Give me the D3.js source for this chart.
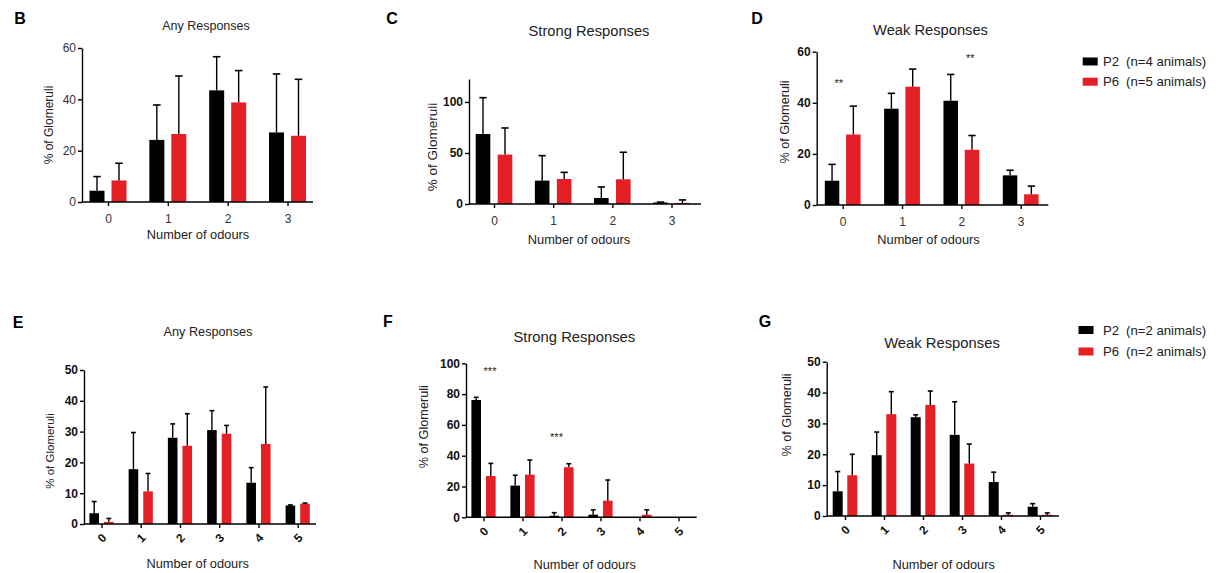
<!DOCTYPE html>
<html>
<head>
<meta charset="utf-8">
<script src="https://cdn.jsdelivr.net/npm/d3@7"></script>
<style>
  body { margin: 0; background: #fff; }
  svg { display: block; font-family: 'Liberation Sans', Arial, sans-serif; }
</style>
</head>
<body>
<svg id="chart" width="1218" height="573"></svg>
<script>
// categories
const odours4 = ['0', '1', '2', '3'];
const odours6 = ['0', '1', '2', '3', '4', '5'];
const groups = ['P2', 'P6'];

// top row (P2 n=4, P6 n=5), mean and upper error
const anyP2 = [4.4, 24.2, 43.5, 27.1];
const anyP2Err = [5.5, 13.6, 13.1, 22.8];
const anyP6 = [8.4, 26.5, 38.8, 25.8];
const anyP6Err = [6.7, 22.6, 12.4, 22.0];

const strongP2 = [68.6, 22.9, 5.9, 1.5];
const strongP2Err = [35.6, 24.5, 10.8, 0.4];
const strongP6 = [48.4, 24.5, 24.2, 1.0];
const strongP6Err = [26.1, 6.5, 26.5, 3.0];

const weakP2 = [9.5, 37.7, 40.8, 11.6];
const weakP2Err = [6.4, 6.0, 10.3, 2.0];
const weakP6 = [27.6, 46.3, 21.6, 4.2];
const weakP6Err = [11.1, 6.9, 5.6, 3.2];

// bottom row (P2 n=2, P6 n=2)
const any2P2 = [3.5, 17.8, 28.0, 30.5, 13.4, 6.0];
const any2P2Err = [3.8, 11.9, 4.5, 6.3, 4.9, 0.2];
const any2P6 = [0.7, 10.6, 25.4, 29.3, 26.0, 6.6];
const any2P6Err = [1.1, 5.8, 10.4, 2.7, 18.5, 0.2];

const strong2P2 = [76.2, 20.6, 1.0, 1.7, 0, 0];
const strong2P2Err = [1.7, 6.7, 2.0, 3.1, 0, 0];
const strong2P6 = [26.8, 27.7, 32.5, 10.8, 1.7, 0];
const strong2P6Err = [8.2, 9.5, 2.3, 13.4, 3.1, 0];

const weak2P2 = [8.0, 19.7, 32.0, 26.3, 11.0, 3.0];
const weak2P2Err = [6.4, 7.5, 0.8, 10.7, 3.2, 1.0];
const weak2P6 = [13.2, 33.0, 36.0, 17.0, 0.4, 0.4];
const weak2P6Err = [6.8, 7.3, 4.5, 6.3, 0.6, 0.6];

// significance marks: category, height (in % units), label
const weakSig = [{ cat: '0', v: 48.7, label: '**' }, { cat: '2', v: 58.4, label: '**' }];
const strong2Sig = [{ cat: '0', v: 96.3, label: '***' }, { cat: '2', v: 53.4, label: '***' }];

const legendTop = ['(n=4 animals)', '(n=5 animals)'];
const legendBottom = ['(n=2 animals)', '(n=2 animals)'];

const color = d3.scaleOrdinal().domain(groups).range(['#000000', '#e41f26']);

const panels = [
  { letter: 'B', lx: 20, ly: 18, title: 'Any Responses', tx: 206, ty: 26, tSize: 12.5,
    cats: odours4, p2: anyP2, p2e: anyP2Err, p6: anyP6, p6e: anyP6Err, sig: [],
    max: 60, ticks: [0, 20, 40, 60], x0: 82, x1: 313, c0: 108, c1: 287.5, y0: 202, yTop: 48,
    bw: 15, gap: 7, yBold: false, rot: false, ylx: 49, yly: 125, ylSize: 12, xlx: 198, xly: 235 },
  { letter: 'C', lx: 392, ly: 18, title: 'Strong Responses', tx: 589, ty: 31, tSize: 14.7,
    cats: odours4, p2: strongP2, p2e: strongP2Err, p6: strongP6, p6e: strongP6Err, sig: [],
    max: 122.5, ticks: [0, 50, 100], x0: 469, x1: 701, c0: 494, c1: 671.5, y0: 204, yTop: 79,
    bw: 14.6, gap: 7.4, yBold: true, rot: false, ylx: 432, yly: 147, ylSize: 13.5, xlx: 579, xly: 239.5 },
  { letter: 'D', lx: 757, ly: 18, title: 'Weak Responses', tx: 930.5, ty: 30, tSize: 14.7,
    cats: odours4, p2: weakP2, p2e: weakP2Err, p6: weakP6, p6e: weakP6Err, sig: weakSig, sigDx: [-4, 9],
    max: 60, ticks: [0, 20, 40, 60], x0: 816.7, x1: 1048.3, c0: 842.7, c1: 1020.7, y0: 205, yTop: 51.7,
    bw: 14.5, gap: 6.8, yBold: true, rot: false, ylx: 785, yly: 122, ylSize: 12.7, xlx: 928.5, xly: 239.5 },
  { letter: 'E', lx: 18, ly: 322, title: 'Any Responses', tx: 208, ty: 331.7, tSize: 12.7,
    cats: odours6, p2: any2P2, p2e: any2P2Err, p6: any2P6, p6e: any2P6Err, sig: [],
    max: 50, ticks: [0, 10, 20, 30, 40, 50], x0: 84, x1: 316, c0: 101.5, c1: 297.7, y0: 524, yTop: 370,
    bw: 9.6, gap: 5, yBold: true, rot: true, ylx: 50, yly: 451, ylSize: 11.5, xlx: 197.7, xly: 564 },
  { letter: 'F', lx: 388, ly: 321, title: 'Strong Responses', tx: 574.3, ty: 336.7, tSize: 14.8,
    cats: odours6, p2: strong2P2, p2e: strong2P2Err, p6: strong2P6, p6e: strong2P6Err, sig: strong2Sig, sigDx: [6.5, -5],
    max: 100, ticks: [0, 20, 40, 60, 80, 100], x0: 466, x1: 696.7, c0: 483.5, c1: 678.5, y0: 517.3, yTop: 363.3,
    bw: 9.6, gap: 5, yBold: true, rot: true, ylx: 423.3, yly: 426.7, ylSize: 12.7, xlx: 584.7, xly: 565 },
  { letter: 'G', lx: 765, ly: 321, title: 'Weak Responses', tx: 942, ty: 343.3, tSize: 14.8,
    cats: odours6, p2: weak2P2, p2e: weak2P2Err, p6: weak2P6, p6e: weak2P6Err, sig: [],
    max: 50, ticks: [0, 10, 20, 30, 40, 50], x0: 826.7, x1: 1059, c0: 845, c1: 1040, y0: 516, yTop: 361.7,
    bw: 10, gap: 4.6, yBold: true, rot: true, ylx: 786.7, yly: 415, ylSize: 12.7, xlx: 943.7, xly: 565 }
];

const svg = d3.select('#chart');

const drawPanel = (p) => {
  const g = svg.append('g').attr('class', 'panel');
  const y = d3.scaleLinear().domain([0, p.max]).range([p.y0, p.yTop]);
  const x = d3.scalePoint().domain(p.cats).range([p.c0, p.c1]);
  const half = p.bw + p.gap / 2;
  const sub = d3.scaleBand().domain(groups).range([-half, half])
    .paddingInner(p.gap / (p.bw + p.gap));

  // letter and title
  g.append('text').attr('x', p.lx).attr('y', p.ly).attr('dy', '0.35em')
    .attr('text-anchor', 'middle').style('font-size', '16px').style('font-weight', 'bold')
    .text(p.letter);
  g.append('text').attr('x', p.tx).attr('y', p.ty).attr('dy', '0.35em')
    .attr('text-anchor', 'middle').style('font-size', p.tSize + 'px').style('fill', '#222')
    .text(p.title);

  const rows = [];
  p.cats.forEach((c, i) => {
    rows.push({ cat: c, grp: 'P2', v: p.p2[i], e: p.p2e[i] });
    rows.push({ cat: c, grp: 'P6', v: p.p6[i], e: p.p6e[i] });
  });

  // bars
  g.selectAll('rect.bar')
    .data(rows.filter((d) => d.v > 0))
    .enter()
    .append('rect')
    .attr('class', 'bar')
    .attr('x', (d) => x(d.cat) + sub(d.grp))
    .attr('width', sub.bandwidth())
    .attr('y', (d) => y(d.v))
    .attr('height', (d) => y(0) - y(d.v))
    .style('fill', (d) => color(d.grp));

  // upper error bars
  const cap = p.bw * 0.5;
  const errs = g.selectAll('g.err')
    .data(rows.filter((d) => d.e > 0))
    .enter()
    .append('g')
    .attr('class', 'err')
    .attr('transform', (d) => 'translate(' + (x(d.cat) + sub(d.grp) + sub.bandwidth() / 2) + ',0)');
  errs.append('line')
    .attr('y1', (d) => y(d.v)).attr('y2', (d) => y(d.v + d.e))
    .style('stroke', '#000').style('stroke-width', 1.4);
  errs.append('line')
    .attr('x1', -cap / 2).attr('x2', cap / 2)
    .attr('y1', (d) => y(d.v + d.e)).attr('y2', (d) => y(d.v + d.e))
    .style('stroke', '#000').style('stroke-width', 1.6);

  // y axis
  const yAxis = g.append('g')
    .attr('transform', 'translate(' + p.x0 + ',0)')
    .call(d3.axisLeft(y).tickValues(p.ticks).tickSize(4).tickSizeOuter(0).tickPadding(2));
  yAxis.selectAll('text')
    .style('font-size', '12px')
    .style('font-weight', p.yBold ? 'bold' : 'normal')
    .style('fill', p.yBold ? '#111' : '#333');

  // x axis
  const xAxis = g.append('g')
    .attr('transform', 'translate(0,' + p.y0 + ')')
    .call(d3.axisBottom(x).tickSize(4).tickSizeOuter(0).tickPadding(8));
  xAxis.select('.domain').attr('d', 'M' + p.x0 + ',0H' + p.x1);
  const xt = xAxis.selectAll('text')
    .style('font-size', '12px')
    .style('fill', p.rot ? '#111' : '#333')
    .style('font-weight', p.rot ? 'bold' : 'normal');
  if (p.rot) {
    xt.attr('y', 0).attr('dy', '0.35em').attr('text-anchor', 'middle')
      .attr('transform', 'translate(0,14) rotate(-45)');
  }

  g.selectAll('.domain, .tick line').style('stroke', '#000').style('stroke-width', 1.4);

  // axis titles
  g.append('text')
    .attr('transform', 'translate(' + p.ylx + ',' + p.yly + ') rotate(-90)')
    .attr('dy', '0.35em').attr('text-anchor', 'middle')
    .style('font-size', p.ylSize + 'px').style('fill', '#222')
    .text('% of Glomeruli');
  g.append('text')
    .attr('x', p.xlx).attr('y', p.xly).attr('dy', '0.35em')
    .attr('text-anchor', 'middle').style('font-size', '12.8px').style('fill', '#222')
    .text('Number of odours');

  // significance stars
  g.selectAll('text.sig')
    .data(p.sig)
    .enter()
    .append('text')
    .attr('class', 'sig')
    .attr('x', (d, i) => x(d.cat) + p.sigDx[i])
    .attr('y', (d) => y(d.v) + 6)
    .attr('text-anchor', 'middle')
    .style('font-size', '11px').style('fill', '#222')
    .text((d) => d.label);
};

panels.forEach(drawPanel);

// legends
const drawLegend = (lx, rows, labels) => {
  const lg = svg.append('g').attr('class', 'legend');
  groups.forEach((grp, i) => {
    lg.append('rect')
      .attr('x', lx).attr('y', rows[i] - 4).attr('width', 15).attr('height', 8)
      .style('fill', color(grp));
    lg.append('text')
      .attr('x', 1103).attr('y', rows[i]).attr('dy', '0.35em')
      .style('font-size', '13.2px').style('fill', '#222').text(grp);
    lg.append('text')
      .attr('x', 1126).attr('y', rows[i]).attr('dy', '0.35em')
      .style('font-size', '13.2px').style('fill', '#222').text(labels[i]);
  });
};
drawLegend(1082.7, [61.5, 81.7], legendTop);
drawLegend(1078.5, [330, 351.5], legendBottom);
</script>
</body>
</html>
